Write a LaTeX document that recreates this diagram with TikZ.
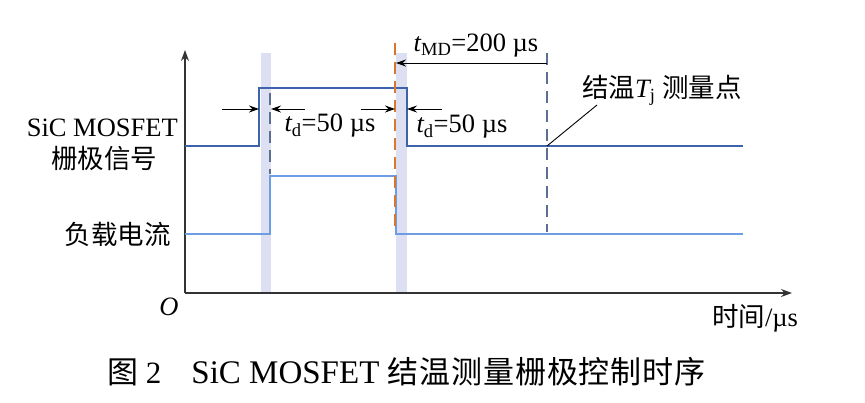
\documentclass[tikz,border=0pt]{standalone}
\usepackage{fontspec}
\setmainfont{Liberation Serif}
\newfontfamily\cjk{Noto Sans CJK SC}
\usetikzlibrary{arrows.meta, positioning, calc}
\definecolor{gateblue}{HTML}{3E62AC}
\definecolor{loadblue}{HTML}{6E9DE3}
\definecolor{bandlav}{HTML}{DDE0F3}
\definecolor{dashgray}{HTML}{5B6F95}
\definecolor{dashorange}{HTML}{D9782D}
\newcommand{\lbl}{\fontsize{26.5}{30}\selectfont}
\newcommand{\caplbl}{\fontsize{31}{35}\selectfont}

\begin{document}
\begin{tikzpicture}[x=1pt, y=-1pt, >=Stealth, line join=miter,
  axisline/.style={line width=1.1pt, black!80, -{Stealth[length=11pt, width=8pt]}},
  gatesig/.style={line width=1.6pt, gateblue},
  loadsig/.style={line width=1.6pt, loadblue},
  markdash/.style={line width=1.3pt, dash pattern=on 12pt off 7pt},
  dimarrow/.style={line width=0.9pt, -{Stealth[length=10pt, width=7pt]}},
  txt/.style={inner sep=0pt, font=\lbl}]
  \useasboundingbox (0,0) rectangle (865,402);
  % Shaded delay bands
  \fill[bandlav] (261,53) rectangle (271,293);
  \fill[bandlav] (396,53) rectangle (407,293);
  % Axes
  \coordinate (O) at (185,293);
  \draw[axisline] (O) -- (185,50);
  \draw[axisline] (O) -- (792,293);
  \node[txt, font=\lbl\itshape] (o) at (169,307) {O};
  \node[txt] (tax) at (755,318) {{\cjk 时间}/µs};
  % Gate signal
  \draw[gatesig] (185,146) -- (259,146) -- (259,88) -- (407,88)
    -- (407,146) -- (743,146);
  % Load current
  \draw[loadsig] (185,234) -- (270,234) -- (270,176) -- (396,176)
    -- (396,234) -- (743,234);
  % Marker lines
  \draw[markdash, dashgray] (270,93) -- (270,174);
  \draw[markdash, dashorange] (395,43) -- (395,232);
  \draw[markdash, dashgray] (547,53) -- (547,232);
  % Delay arrows
  \draw[dimarrow] (222,109) -- (259,109);
  \draw[dimarrow] (305,109) -- (271,109);
  \node[txt] (td1) at (330,126) {{\itshape t}\textsubscript{d}=50 µs};
  \draw[dimarrow] (361,109) -- (395,109);
  \draw[dimarrow] (442,109) -- (407,109);
  \node[txt] (td2) at (462,127) {{\itshape t}\textsubscript{d}=50 µs};
  \draw[dimarrow, {Stealth[length=10pt, width=7pt]}-] (396,63) -- (547,63);
  \node[txt] (tmd) at (476,46) {{\itshape t}\textsubscript{MD}=200 µs};
  % Measurement point
  \coordinate (mp) at (547,146);
  \node[txt, anchor=west] (tj) at (582,90) {{\cjk 结温}{\itshape T}\textsubscript{j} {\cjk 测量点}};
  \draw[line width=0.9pt] (mp) -- (597,105);
  % Signal labels
  \node[txt, anchor=east] (gate1) at (178,128) {SiC MOSFET};
  \node[txt] (gate2) at (104,158) {\cjk 栅极信号};
  \node[txt, anchor=east] (load) at (171,234) {\cjk 负载电流};
  % Caption
  \node[txt, font=\caplbl, anchor=west] (cap) at (107,372)
    {{\cjk 图} 2\hspace{30pt}{\fontsize{33}{35}\selectfont SiC MOSFET}\hspace{8pt}{\cjk\addfontfeature{LetterSpace=3}结温测量栅极控制时序}};
\end{tikzpicture}
\end{document}
